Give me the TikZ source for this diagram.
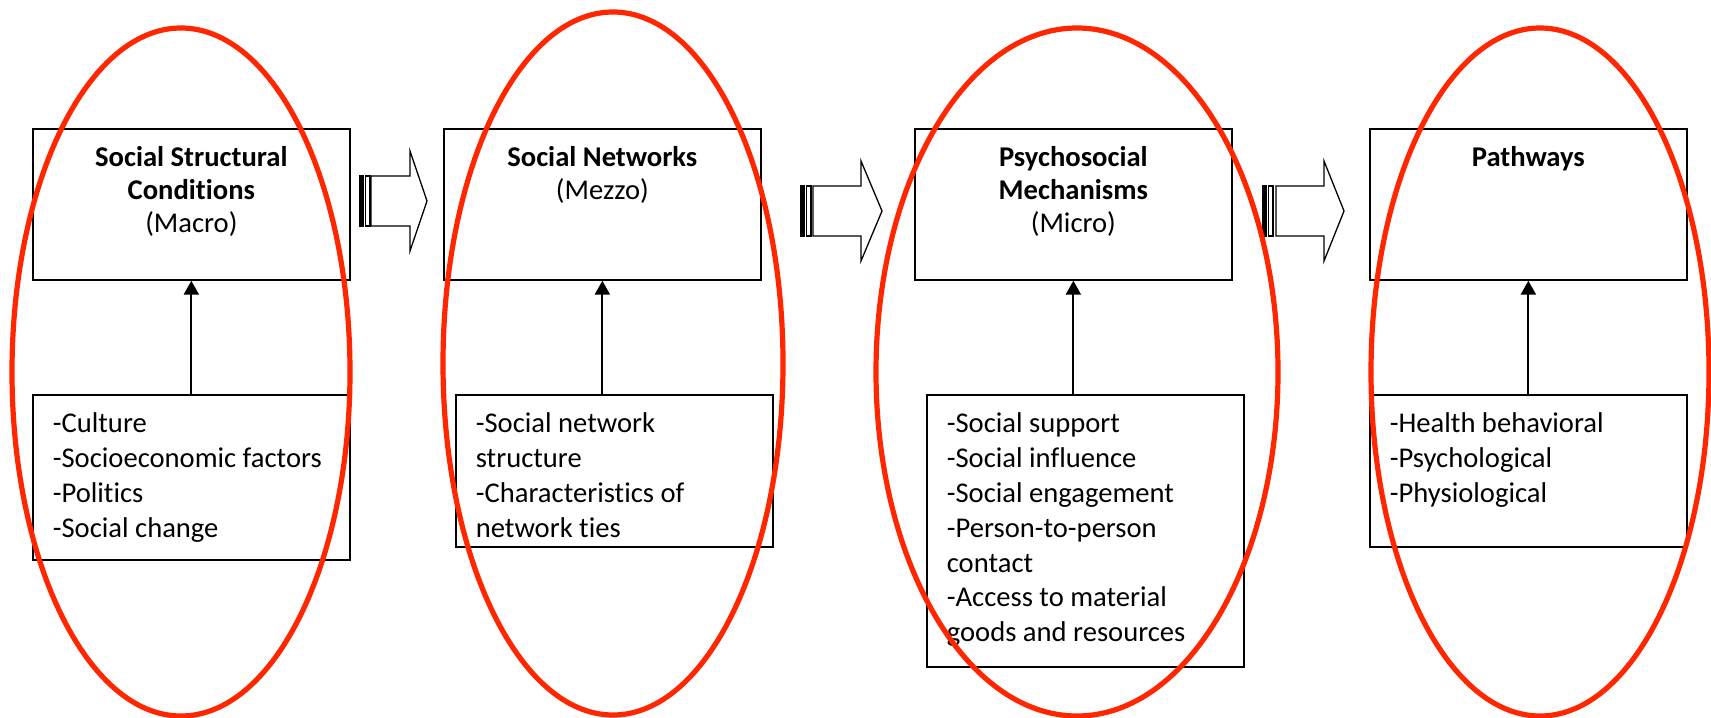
\documentclass[tikz,border=0pt]{standalone}
\usepackage{fontspec}
\setmainfont{Carlito}[Ligatures=NoCommon]
\usetikzlibrary{arrows.meta}
\definecolor{ringred}{RGB}{255,38,0}
\newcommand{\headtext}[1]{\parbox[c][75.5pt][t]{158.5pt}{\centering\rule{0pt}{19pt}#1}}
\newcommand{\listtext}[2]{\parbox[c][#1][t]{158.5pt}{\raggedright\leftskip=10pt\rule{0pt}{19pt}#2}}

\begin{document}
\begin{tikzpicture}[x=0.5pt,y=-0.5pt,
  panel/.style={draw,line width=0.85pt,inner sep=0pt,anchor=north west,font=\fontsize{14.3}{16.5}\selectfont},
  items/.style={panel,font=\fontsize{14.3}{17.4}\selectfont},
  link/.style={-{Triangle[length=7pt,width=7.5pt]},line width=1.1pt},
  ring/.style={ringred,line width=2.6pt}]
  \path[use as bounding box,fill=white] (0,0) rectangle (1711,717);
  \node[panel] (top1) at (32,128) {\headtext{\textbf{Social Structural}\\\textbf{Conditions}\\(Macro)}};
  \node[panel] (top2) at (443,128) {\headtext{\textbf{Social Networks}\\(Mezzo)}};
  \node[panel] (top3) at (914,128) {\headtext{\textbf{Psychosocial}\\\textbf{Mechanisms}\\(Micro)}};
  \node[panel] (top4) at (1369,128) {\headtext{\textbf{Pathways}}};
  \node[items] (list1) at (32,394) {\listtext{82.5pt}{-Culture\\-Socioeconomic factors\\-Politics\\-Social change}};
  \node[items] (list2) at (455,394) {\listtext{76pt}{-Social network\\structure\\-Characteristics of\\network ties}};
  \node[items] (list3) at (926,394) {\listtext{136pt}{-Social support\\-Social influence\\-Social engagement\\-Person-to-person\\contact\\-Access to material\\goods and resources}};
  \node[items] (list4) at (1369,394) {\listtext{76pt}{-Health behavioral\\-Psychological\\-Physiological}};
  \foreach \n in {1,...,4}{
    \draw[link] (top\n.south |- list\n.north) -- (top\n.south);
  }
  \foreach \xa/\xb/\xc/\xd/\ym in {360/371/410/427/201,801/813/861/882/211,1263/1276/1324/1344/211}{
    \draw[fill=black,line width=0.65pt] (\xa,\ym-25) rectangle (\xa+3.5,\ym+25);
    \draw[fill=white,line width=0.65pt] (\xa+5.5,\ym-25) rectangle (\xa+10,\ym+25);
    \draw[fill=white,line width=0.65pt,line join=miter] (\xb,\ym-25) -- (\xc,\ym-25) -- (\xc,\ym-50)
      -- (\xd,\ym) -- (\xc,\ym+50) -- (\xc,\ym+25) -- (\xb,\ym+25) -- cycle;
  }
  \foreach \cx/\cy/\rx/\ry in {181/372/84.5/172,613/363.5/85/175.75,1077/372/100.5/172,1540/372/84.5/172}{
    \draw[ring] (\cx,\cy) ellipse [x radius=\rx pt,y radius=\ry pt];
  }
\end{tikzpicture}
\end{document}
